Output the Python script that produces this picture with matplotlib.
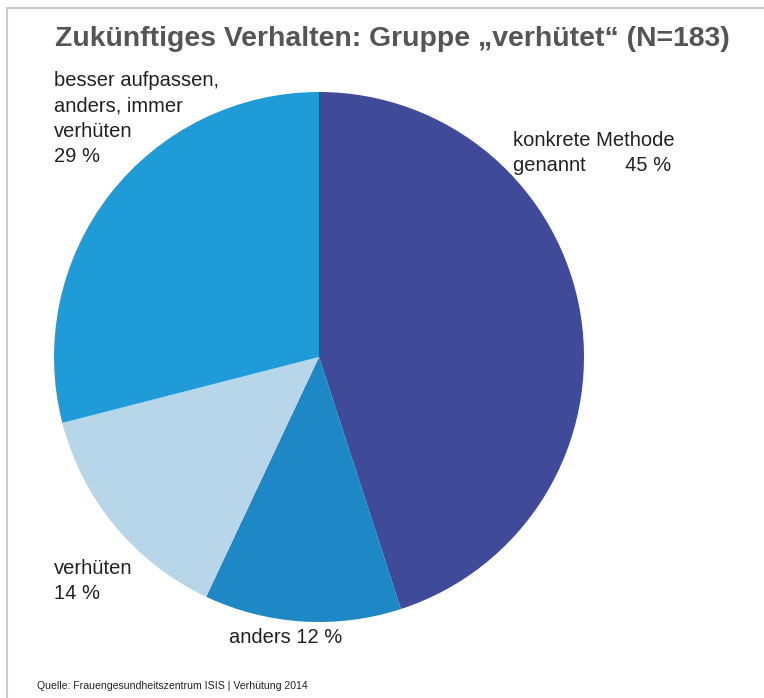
import matplotlib
matplotlib.use("Agg")
from matplotlib import pyplot as plt
from matplotlib.lines import Line2D

# slices, clockwise from 12 o'clock
LABELS = ['konkrete Methode\ngenannt       45 %', 'anders 12 %', 'verhüten\n14 %',
          'besser aufpassen,\nanders, immer\nverhüten\n29 %']
VALUES = [45, 12, 14, 29]
COLORS = ['#3f4a99', '#1e88c7', '#b8d6ea', '#1f9bd7']
TITLE = 'Zukünftiges Verhalten: Gruppe „verhütet“ (N=183)'
SOURCE = 'Quelle: Frauengesundheitszentrum ISIS | Verhütung 2014'

W, H = 764, 698
plt.rcParams['font.family'] = ['Liberation Sans', 'DejaVu Sans']

fig = plt.figure(figsize=(W / 100, H / 100), dpi=100)
fig.patch.set_facecolor('white')

# pie area: centre (319, 357), radius 265 px
cx, cy, r = 319, 357, 265
ax = fig.add_axes([(cx - r) / W, (H - cy - r) / H, 2 * r / W, 2 * r / H])
ax.pie(VALUES, colors=COLORS, startangle=90, counterclock=False,
       wedgeprops=dict(linewidth=0))
ax.set_xlim(-1, 1)
ax.set_ylim(-1, 1)
ax.set_aspect('equal')
ax.axis('off')

# frame lines (top and left)
fig.add_artist(Line2D([7 / W, 1], [1 - 8 / H, 1 - 8 / H], color='#bbbbbb', lw=1.2))
fig.add_artist(Line2D([7 / W, 7 / W], [0, 1 - 8 / H], color='#cccccc', lw=1.5))

def px(x, y):
    return x / W, 1 - y / H

fig.text(*px(55, 39), TITLE, fontsize=20.4, fontweight='bold', color='#555557',
         va='center', ha='left')

lbl = dict(fontsize=14.5, color='#222222', ha='left', va='top', linespacing=1.42)
fig.text(*px(54, 71), LABELS[3], **lbl)
fig.text(*px(513, 131), LABELS[0], **lbl)
fig.text(*px(54, 559), LABELS[2], **lbl)
fig.text(*px(229, 628), LABELS[1], **lbl)

fig.text(*px(37, 686), SOURCE, fontsize=7.6, color='#222222', ha='left', va='center')

fig.savefig('out.png', dpi=100, facecolor='white')
